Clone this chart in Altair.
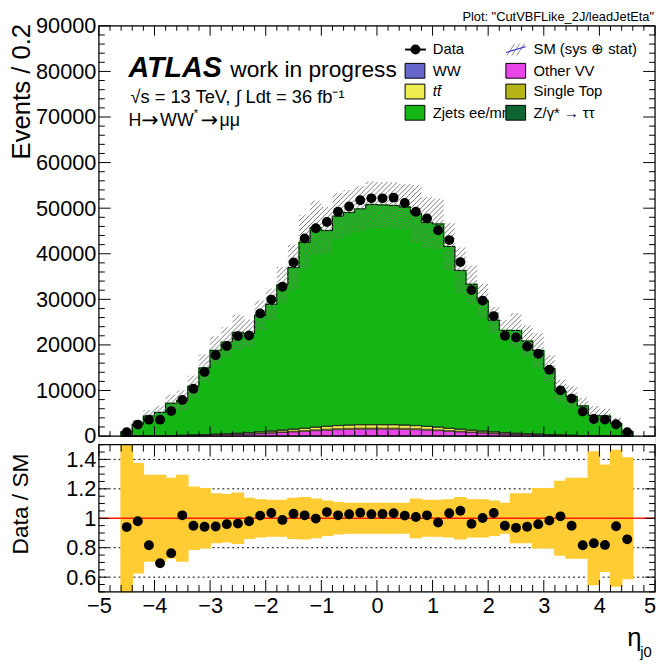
import math
import altair as alt
import numpy as np
import pandas as pd

FONT = "Liberation Sans"
SYM = "DejaVu Sans"

# ---------------- data ----------------
bin_lo = [round(-4.6 + 0.2 * i, 1) for i in range(46)]
bin_c = [round(b + 0.1, 1) for b in bin_lo]

data_events = [870, 2525, 3600, 3600, 5480, 7940, 10390, 14070, 17750, 19770, 21930, 22080,
               26910, 29940, 32760, 38100, 43360, 45600, 46970, 49210, 50360, 51730, 52160,
               52160, 52310, 51150, 49210, 47760, 45170, 43000, 38170, 32030, 29730, 26330,
               22000, 21650, 19630, 18040, 14570, 10030, 8230, 5410, 3750, 3610, 2600, 870]

ratio_vals = [0.94, 0.98, 0.817, 0.694, 0.763, 1.02, 0.949, 0.942, 0.944, 0.96, 0.964, 0.98,
              1.018, 1.036, 0.989, 1.031, 1.02, 0.998, 1.042, 1.02, 1.027, 1.038, 1.028,
              1.029, 1.034, 1.018, 1.009, 1.02, 0.971, 1.034, 1.051, 0.962, 1.002, 1.036,
              0.949, 0.935, 0.942, 0.96, 0.984, 1.013, 0.949, 0.817, 0.83, 0.819, 0.946, 0.857]

unc_frac = [0.60, 0.37, 0.29, 0.29, 0.27, 0.29, 0.21, 0.20, 0.165, 0.16, 0.17, 0.135,
            0.125, 0.12, 0.12, 0.135, 0.14, 0.13, 0.115, 0.105, 0.10, 0.10, 0.10,
            0.10, 0.10, 0.10, 0.13, 0.12, 0.12, 0.125, 0.14, 0.125, 0.125, 0.115,
            0.10, 0.165, 0.165, 0.20, 0.20, 0.25, 0.27, 0.27, 0.45, 0.36, 0.46, 0.41]

zjets = [908, 2546, 4351, 5107, 7056, 7608, 10705, 14607, 18366, 20069, 22121, 21766,
         25513, 27795, 31804, 35410, 40771, 43698, 42905, 45900, 46593, 47306, 48259,
         48160, 48060, 47803, 46426, 44652, 44526, 39847, 34773, 31975, 28566, 24494,
         22417, 22527, 20314, 18355, 14478, 9658, 8496, 6496, 4438, 4353, 2717, 998]

ww = [1, 2, 3, 4, 5, 8, 11, 15, 20, 25, 30, 38, 45, 55, 65, 75, 85, 95, 105, 110, 115, 120, 120,
      120, 120, 115, 110, 105, 95, 85, 75, 65, 55, 45, 38, 30, 25, 20, 15, 11, 8, 5, 4, 3, 2, 1]

other_vv = [10, 20, 35, 50, 80, 110, 150, 200, 260, 300, 350, 420, 500, 600, 720, 850, 950,
            1100, 1200, 1300, 1350, 1400, 1400,
            1400, 1400, 1350, 1300, 1200, 1100, 950, 850, 720, 600, 500, 420, 350, 300, 260,
            200, 150, 110, 80, 50, 35, 20, 10]

single_top = [2, 3, 5, 8, 12, 18, 25, 35, 45, 55, 70, 85, 100, 120, 140, 160, 180, 200, 215,
              230, 240, 250, 250,
              250, 250, 240, 230, 215, 200, 180, 160, 140, 120, 100, 85, 70, 55, 45, 35, 25,
              18, 12, 8, 5, 3, 2]

ttbar = [3, 5, 10, 15, 25, 35, 50, 70, 100, 130, 160, 200, 250, 300, 360, 420, 480, 550, 600,
         650, 680, 700, 700,
         700, 700, 680, 650, 600, 550, 480, 420, 360, 300, 250, 200, 160, 130, 100, 70, 50,
         35, 25, 15, 10, 5, 3]

ztautau = [1, 1, 2, 3, 4, 5, 7, 9, 12, 15, 18, 22, 26, 30, 35, 40, 44, 48, 52, 55, 58, 60, 60,
           60, 60, 58, 55, 52, 48, 44, 40, 35, 30, 26, 22, 18, 15, 12, 9, 7, 5, 4, 3, 2, 1, 1]

proc_names = ["WW", "Other VV", "Single Top", "ttbar", "Ztautau", "Zjets"]
proc_colors = ["#6666cc", "#e844e8", "#b5b51a", "#eded4f", "#0f6633", "#13b613"]
proc_values = [ww, other_vv, single_top, ttbar, ztautau, zjets]

x_label_values = list(range(-5, 5))
x_last_label = "5"
y_top_labels = list(range(0, 90001, 10000))
y_rat_labels = [0.6, 0.8, 1, 1.2, 1.4]

# ---------------- geometry ----------------
W = 563.0
H = 573.0
H1 = 415.3          # bottom of upper panel (px)
RTOP, RBOT = 424.0, 573.0
YMAX = 90000

xs = alt.Scale(domain=[-5, 5], range=[0, W], nice=False, zero=False)
ys_top = alt.Scale(domain=[0, YMAX], range=[H1, 0], nice=False, zero=False)
ys_rat = alt.Scale(domain=[0.5, 1.5], range=[RBOT, RTOP], nice=False, zero=False, clamp=True)

# ---------------- tables ----------------
rows = []
totals = []
for i in range(46):
    y0 = 0.0
    for name, vals in zip(proc_names, proc_values):
        rows.append(dict(proc=name, lo=bin_lo[i], hi=round(bin_lo[i] + 0.2, 1), y0=y0, y1=y0 + vals[i]))
        y0 += vals[i]
    totals.append(y0)
df_stack = pd.DataFrame(rows)

# outline of total
ex = [-4.6] + bin_lo + [4.6, 4.6]
ey = [0.0] + totals + [totals[-1], 0.0]
df_out = pd.DataFrame({"ex": ex, "ey": ey, "i": list(range(len(ex)))})

# hatch band (SM sys+stat) drawn as 45-degree line segments
def xpx(x):
    return (x + 5) / 10 * W

def ypx(v):
    return v / YMAX * H1

spacing = 5.0
hrows = []
for lo, tot, u in zip(bin_lo, totals, unc_frac):
    px0, px1 = xpx(lo), xpx(lo + 0.2)
    py0, py1 = ypx(tot * (1 - u)), ypx(tot * (1 + u))
    k0 = math.ceil((px0 - py1) / spacing)
    k1 = math.floor((px1 - py0) / spacing)
    for k in range(k0, k1 + 1):
        c = k * spacing
        a = max(px0, py0 + c)
        b = min(px1, py1 + c)
        if b - a > 0.3:
            hrows.append(dict(x1=a / W * 10 - 5, x2=b / W * 10 - 5,
                              y1=(a - c) / H1 * YMAX, y2=(b - c) / H1 * YMAX))
df_hatch = pd.DataFrame(hrows)

df_pts = pd.DataFrame({"c": bin_c, "ev": data_events, "r": ratio_vals})
df_band = pd.DataFrame({"lo": bin_lo, "hi": [round(b + 0.2, 1) for b in bin_lo],
                        "blo": [1 - u for u in unc_frac], "bhi": [1 + u for u in unc_frac]})
df_dots = pd.DataFrame({"r": [0.6, 0.8, 1.2, 1.4]})
df_one_r = pd.DataFrame({"r": [1.0]})
one = pd.DataFrame({"a": [0]})

# ticks
xt = []
for i in range(51):
    v = round(-5 + 0.2 * i, 1)
    major = abs(v - round(v)) < 1e-6
    lt = 10 if major else 5
    lr = 12 if major else 7
    xt += [dict(v=v, a=H1, b=H1 - lt), dict(v=v, a=0, b=lt),
           dict(v=v, a=RBOT, b=RBOT - lr), dict(v=v, a=RTOP, b=RTOP + lr)]
df_xt = pd.DataFrame(xt)
yt = []
for v in range(0, YMAX + 1, 2000):
    L = 12 if v % 10000 == 0 else 6
    yt += [dict(v=v, a=0, b=L), dict(v=v, a=W, b=W - L)]
df_yt = pd.DataFrame(yt)
rt = []
for i in range(21):
    v = round(0.5 + 0.05 * i, 2)
    major = abs(v * 5 - round(v * 5)) < 1e-6
    L = 10 if major else 6
    rt += [dict(v=v, a=0, b=L), dict(v=v, a=W, b=W - L)]
df_rt = pd.DataFrame(rt)

# ---------------- axes ----------------
lab = dict(labelFont=FONT, labelFontSize=22, labelColor="black", ticks=False, tickSize=0,
           domain=False, grid=False, title=None, labelOverlap=False, labelFlush=False)
x_axis = alt.Axis(values=x_label_values, orient="bottom", labelPadding=4,
                  labelExpr="datum.value < 0 ? '\u2212' + abs(datum.value) : '' + datum.value", **lab)
rat_axis = alt.Axis(values=y_rat_labels, orient="left", labelPadding=3,
                    labelExpr="'' + datum.value", **lab)
top_axis = alt.Axis(values=y_top_labels, orient="left", labelPadding=3,
                    labelExpr="'' + datum.value", **lab)

layers = []
# ---- ratio panel ----
layers.append(alt.Chart(df_dots).mark_rule(color="black", strokeWidth=1, strokeDash=[2, 3]).encode(
    x=alt.value(0), x2=alt.value(W), y=alt.Y("r:Q", scale=ys_rat, axis=None)))
layers.append(alt.Chart(df_band).mark_rect(color="#ffcc33", stroke="#ffcc33", strokeWidth=1.5, opacity=1).encode(
    x=alt.X("lo:Q", scale=xs, axis=x_axis), x2="hi:Q",
    y=alt.Y("blo:Q", scale=ys_rat, axis=rat_axis), y2="bhi:Q"))
layers.append(alt.Chart(df_one_r).mark_rule(color="#ff1a00", strokeWidth=1.5).encode(
    x=alt.value(0), x2=alt.value(W), y=alt.Y("r:Q", scale=ys_rat, axis=None)))
layers.append(alt.Chart(df_pts).mark_circle(size=100, color="black", opacity=1).encode(
    x=alt.X("c:Q", scale=xs, axis=None), y=alt.Y("r:Q", scale=ys_rat, axis=None)))

# ---- upper panel ----
cscale = alt.Scale(domain=proc_names, range=proc_colors)
layers.append(alt.Chart(df_stack).transform_filter("datum.proc == 'Zjets'").mark_rect(
    opacity=1, strokeWidth=1.5).encode(
    x=alt.X("lo:Q", scale=xs, axis=None), x2="hi:Q",
    y=alt.Y("y0:Q", scale=ys_top, axis=top_axis), y2="y1:Q",
    color=alt.Color("proc:N", scale=cscale, legend=None),
    stroke=alt.Stroke("proc:N", scale=cscale, legend=None)))
layers.append(alt.Chart(df_stack).transform_filter("datum.proc != 'Zjets'").mark_rect(
    opacity=1, stroke="#222222", strokeWidth=0.6).encode(
    x=alt.X("lo:Q", scale=xs, axis=None), x2="hi:Q",
    y=alt.Y("y0:Q", scale=ys_top, axis=None), y2="y1:Q",
    color=alt.Color("proc:N", scale=cscale, legend=None)))
layers.append(alt.Chart(df_out).mark_line(interpolate="step-after", color="black", strokeWidth=1).encode(
    x=alt.X("ex:Q", scale=xs, axis=None), y=alt.Y("ey:Q", scale=ys_top, axis=None),
    order=alt.Order("i:Q")))
layers.append(alt.Chart(df_hatch).mark_rule(color="#7a7a7a", strokeWidth=1).encode(
    x=alt.X("x1:Q", scale=xs, axis=None), x2="x2:Q",
    y=alt.Y("y1:Q", scale=ys_top, axis=None), y2="y2:Q"))
layers.append(alt.Chart(df_pts).mark_circle(size=100, color="black", opacity=1).encode(
    x=alt.X("c:Q", scale=xs, axis=None), y=alt.Y("ev:Q", scale=ys_top, axis=None)))

# ---- frames and ticks ----
for ya, yb in [(0, H1), (RTOP, RBOT)]:
    layers.append(alt.Chart(one).mark_rect(fillOpacity=0, stroke="black", strokeWidth=1.2).encode(
        x=alt.value(0), x2=alt.value(W), y=alt.value(ya), y2=alt.value(yb)))
layers.append(alt.Chart(df_xt).mark_rule(color="black", strokeWidth=1).encode(
    x=alt.X("v:Q", scale=xs, axis=None), y=alt.Y("a:Q", scale=None), y2="b:Q"))
layers.append(alt.Chart(df_yt).mark_rule(color="black", strokeWidth=1).encode(
    x=alt.X("a:Q", scale=None), x2="b:Q", y=alt.Y("v:Q", scale=ys_top, axis=None)))
layers.append(alt.Chart(df_rt).mark_rule(color="black", strokeWidth=1).encode(
    x=alt.X("a:Q", scale=None), x2="b:Q", y=alt.Y("v:Q", scale=ys_rat, axis=None)))


def txt(s, x, y, size, align="left", baseline="alphabetic", angle=0, weight="normal", style="normal", font=FONT):
    kw = dict(text=s, align=align, baseline=baseline, font=font, fontSize=size,
              fontWeight=weight, fontStyle=style, color="black")
    if angle:
        kw["angle"] = angle
    return alt.Chart(one).mark_text(**kw).encode(x=alt.value(x), y=alt.value(y))


# ---- texts ----
layers.append(txt(x_last_label, 558, RBOT + 4, 22, align="center", baseline="top"))
layers.append(txt("ATLAS", 30, 52, 29, weight="bold", style="italic"))
layers.append(txt("work in progress", 133, 52, 23))
layers.append(txt("\u221As = 13 TeV, \u222B Ldt = 36 fb\u207B\u00B9", 32, 78, 18.5))
layers.append(txt("H", 30, 101, 18))
layers.append(txt("\u2192", 43, 102, 21, font=SYM))
layers.append(txt("WW", 62, 101, 18))
layers.append(txt("*", 96, 92, 11))
layers.append(txt("\u2192", 103, 102, 21, font=SYM))
layers.append(txt("\u03BC\u03BC", 122, 101, 18))
layers.append(txt('Plot: "CutVBFLike_2J/leadJetEta"', 562, -5, 13, align="right"))
layers.append(txt("Events / 0.2", -70, -2, 26, align="right", angle=270))
layers.append(txt("Data / SM", -72, 484, 23, align="center", angle=270))
layers.append(txt("\u03B7", 535, 628, 26))
layers.append(txt("j0", 548, 639, 15))

# ---- legend ----
leg_rows = [24, 45.5, 66.5, 88]
c1_box, c2_box = 310, 412
c1_txt, c2_txt = 338, 440
leg_labels_1 = ["Data", "WW", "t\u0074\u0304", "Zjets ee/mm"]
leg_labels_2 = ["SM (sys \u2295 stat)", "Other VV", "Single Top", "Z/\u03B3* \u2192 \u03C4\u03C4"]
for i in range(4):
    if i == 2:
        layers.append(txt(leg_labels_1[i], c1_txt, leg_rows[i], 15, baseline="middle", style="italic"))
    else:
        layers.append(txt(leg_labels_1[i], c1_txt, leg_rows[i], 15, baseline="middle"))
    layers.append(txt(leg_labels_2[i], c2_txt, leg_rows[i], 15, baseline="middle"))

box_colors = {("1", 1): "#6666cc", ("1", 2): "#eded4f", ("1", 3): "#13b613",
              ("2", 1): "#e844e8", ("2", 2): "#b5b51a", ("2", 3): "#0f6633"}
brows = []
for (col, r), colr in box_colors.items():
    x0 = c1_box if col == "1" else c2_box
    brows.append(dict(xa=x0, xb=x0 + 20, ya=leg_rows[r] - 7.5, yb=leg_rows[r] + 7.5, col=colr))
df_box = pd.DataFrame(brows)
layers.append(alt.Chart(df_box).mark_rect(stroke="black", strokeWidth=1, opacity=1).encode(
    x=alt.X("xa:Q", scale=None), x2="xb:Q", y=alt.Y("ya:Q", scale=None), y2="yb:Q",
    color=alt.Color("col:N", scale=None)))
# Data marker
layers.append(alt.Chart(one).mark_rule(color="black", strokeWidth=2).encode(
    x=alt.value(c1_box), x2=alt.value(c1_box + 21), y=alt.value(leg_rows[0])))
layers.append(alt.Chart(one).mark_circle(size=100, color="black", opacity=1).encode(
    x=alt.value(c1_box + 10.5), y=alt.value(leg_rows[0])))
# SM hatch symbol
hs = pd.DataFrame({"xa": [c2_box + 1, c2_box + 6, c2_box + 11], "xb": [c2_box + 9, c2_box + 14, c2_box + 19],
                   "ya": [leg_rows[0] + 6] * 3, "yb": [leg_rows[0] - 6] * 3})
layers.append(alt.Chart(hs).mark_rule(color="#8a8a8a", strokeWidth=1).encode(
    x=alt.X("xa:Q", scale=None), x2="xb:Q", y=alt.Y("ya:Q", scale=None), y2="yb:Q"))
layers.append(alt.Chart(one).mark_rule(color="#3f3fd6", strokeWidth=1.2).encode(
    x=alt.value(c2_box), x2=alt.value(c2_box + 20), y=alt.value(leg_rows[0] + 3), y2=alt.value(leg_rows[0] - 3)))

chart = alt.layer(*layers).resolve_scale(
    x="independent", y="independent", color="independent", stroke="independent"
).resolve_axis(x="independent", y="independent").properties(
    width=W, height=H,
    autosize=alt.AutoSizeParams(type="none"),
    padding={"left": 92, "top": 14, "right": 2, "bottom": 72},
).configure_view(stroke=None).configure(background="white")

chart.save("out.html", embed_options={"renderer": "svg", "actions": False})
